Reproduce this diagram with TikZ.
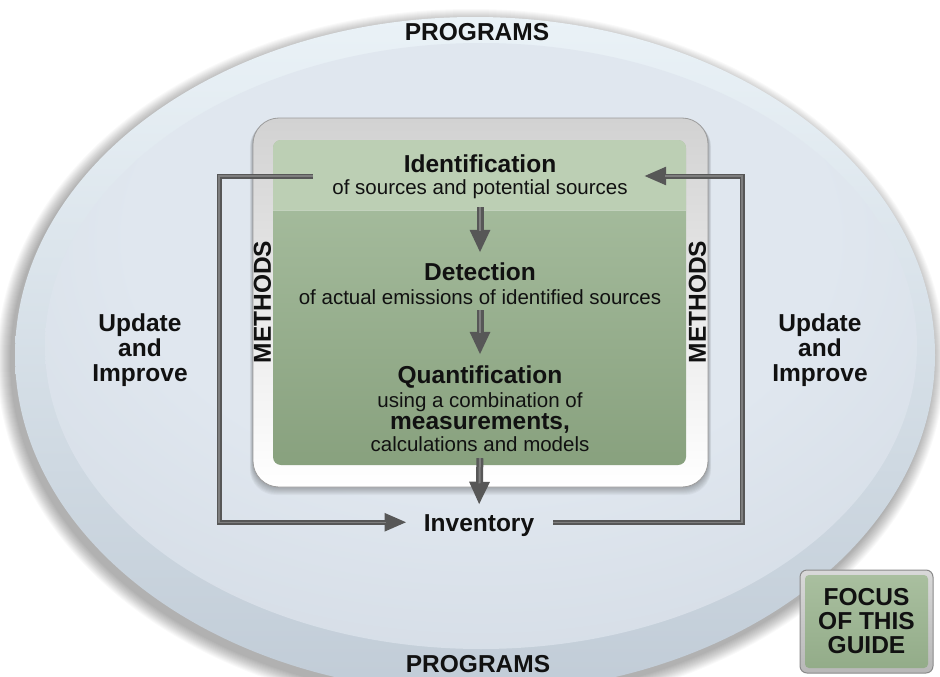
\documentclass[tikz,border=0pt]{standalone}
\usepackage{fontspec}
\setmainfont{Liberation Sans}
\usetikzlibrary{arrows.meta}
\definecolor{txt}{HTML}{111111}
\definecolor{ringtop}{HTML}{EAF2F7}
\definecolor{ringbot}{HTML}{C1CCD7}
\definecolor{inA}{HTML}{E0E7EF}
\definecolor{inB}{HTML}{D0D8E2}
\definecolor{inC}{HTML}{A9B3C0}
\definecolor{frametop}{HTML}{D2D2D2}
\definecolor{framemid}{HTML}{EDEDED}
\definecolor{framebd}{HTML}{9C9C9C}
\definecolor{gtop}{HTML}{ABC1A3}
\definecolor{gbot}{HTML}{88A17E}
\definecolor{gband}{HTML}{BCCFB4}
\definecolor{arrdark}{HTML}{575757}
\definecolor{arrlight}{HTML}{7E7E7E}
\definecolor{ftop}{HTML}{A9BF9F}
\definecolor{fbot}{HTML}{93AC89}
\definecolor{focusbd}{HTML}{8A8A8A}
\pgfdeclareradialshading{innersh}{\pgfpoint{0bp}{12bp}}{color(0bp)=(inA); color(20bp)=(inA); color(42bp)=(inB); color(50bp)=(inC); color(80bp)=(inC)}
\begin{document}
\begin{tikzpicture}[x=1pt,y=-1pt,
  title/.style={font=\fontsize{24.5pt}{25pt}\selectfont\bfseries, text=txt, inner sep=0pt, text height=17.5pt, text depth=0pt},
  subline/.style={font=\fontsize{20.5pt}{22pt}\selectfont, text=txt, inner sep=0pt, text height=15pt, text depth=0pt},
  bigtext/.style={font=\fontsize{24.5pt}{25pt}\selectfont\bfseries, text=txt, inner sep=0pt},
  loopline/.style={draw=arrdark, line width=5pt, -{Triangle[length=22pt,width=17pt]}},
  loophi/.style={draw=arrlight, line width=1.4pt, shorten >=21pt},
  downarrow/.style={draw=arrdark, line width=7pt, -{Triangle[length=23pt,width=19pt]}},
  downhi/.style={draw=arrlight, line width=2pt, shorten >=22pt}]
\useasboundingbox (0,0) rectangle (940,677);
\fill[white] (0,0) rectangle (940,677);
% outer ellipse shadow
\foreach \r in {1,...,14}{
  \fill[black,opacity=0.025] (471,361) ellipse ({(460+\r)*1pt} and {(338+\r)*1pt});
}
\shade[top color=ringtop, bottom color=ringbot] (475,355) ellipse (460pt and 338pt);
\shade[shading=innersh] (481,346) ellipse (436pt and 303pt);
% frame shadow
\foreach \r in {1,...,8}{
  \fill[black,opacity=0.035,rounded corners=26pt] ({253-0.4*\r},{118+0.4*\r}) rectangle ({708+0.4*\r},{487+\r});
}
\shade[rounded corners=26pt, top color=frametop, middle color=framemid, bottom color=white] (253,118) rectangle (708,487);
\draw[framebd, rounded corners=26pt, line width=0.8pt] (253,118) rectangle (708,487);
% green panel
\shade[rounded corners=8pt, top color=gtop, bottom color=gbot] (273,140) rectangle (686,465);
\begin{scope}
  \clip[rounded corners=8pt] (273,140) rectangle (686,465);
  \fill[gband] (273,140) rectangle (686,210);
  \draw[white, opacity=0.35, line width=1pt] (273,210) -- (686,210);
\end{scope}
% focus box
\shadedraw[rounded corners=7pt, draw=focusbd, line width=1pt, top color=white!85!black, bottom color=white!72!black] (800,570) rectangle (933,673);
\shade[rounded corners=4pt, top color=ftop, bottom color=fbot] (805,575) rectangle (928,668);

% texts
\node[bigtext] (progT) at (477,32) {PROGRAMS};
\node[bigtext] (progB) at (478,664) {PROGRAMS};
\node[title, anchor=base] (ident) at (480,172) {Identification};
\node[subline, anchor=base] (identsub) at (480,194) {of sources and potential sources};
\node[title, anchor=base] (detect) at (480,280) {Detection};
\node[subline, anchor=base] (detectsub) at (480,304) {of actual emissions of identified sources};
\node[title, anchor=base] (quant) at (480,383) {Quantification};
\node[subline, anchor=base] (quantsub1) at (480,407) {using a combination of};
\node[title, anchor=base] (meas) at (480,429) {measurements,};
\node[subline, anchor=base] (quantsub2) at (480,451) {calculations and models};
\node[title, anchor=base, inner xsep=17pt] (inv) at (479,531) {Inventory};
\node[title, rotate=90] (methL) at (262,302) {METHODS};
\node[title, rotate=90] (methR) at (697,302) {METHODS};
\node[bigtext, align=center] (updL) at (140,350.5) {Update\\and\\Improve};
\node[bigtext, align=center] (updR) at (820,350.5) {Update\\and\\Improve};
\node[bigtext, align=center, font=\fontsize{24.5pt}{24pt}\selectfont\bfseries] (focus) at (866.5,621) {FOCUS\\OF THIS\\GUIDE};

% down arrows
\draw[downarrow, shorten <=13pt, shorten >=9.5pt] (identsub.south) -- (detect.north);
\draw[downhi, shorten <=13pt, shorten >=31pt] (identsub.south) -- (detect.north);
\draw[downarrow, shorten <=6pt, shorten >=10.5pt] (detectsub.south) -- (quant.north);
\draw[downhi, shorten <=6pt, shorten >=32pt] (detectsub.south) -- (quant.north);
\draw[downarrow, shorten <=7pt, shorten >=8.5pt] (quantsub2.south) -- (inv.north);
\draw[downhi, shorten <=7pt, shorten >=30pt] (quantsub2.south) -- (inv.north);

% loops
\coordinate (lstart) at (313,176);
\coordinate (lcorner) at (219,176);
\coordinate (rcorner) at (742,176);
\coordinate (rtip) at (644,176);
\draw[loopline] (lstart) -- (lcorner) |- (inv.west);
\draw[loophi] (lstart) -- (lcorner) |- (inv.west);
\draw[loopline, shorten <=2pt] (inv.east) -| (rcorner) -- (rtip);
\draw[loophi, shorten <=2pt] (inv.east) -| (rcorner) -- (rtip);
\end{tikzpicture}
\end{document}
